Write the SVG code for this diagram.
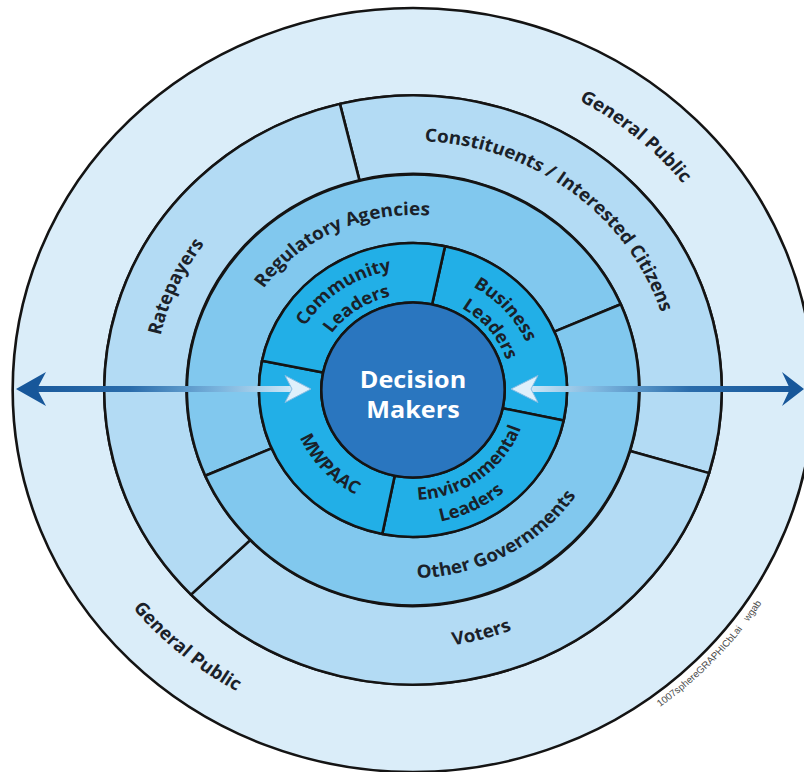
<svg xmlns="http://www.w3.org/2000/svg" width="804" height="772" viewBox="0 0 804 772">
<style>
.lbl{font-family:"Open Sans","Liberation Sans",sans-serif;font-weight:700;font-size:18px;fill:#1a2129;text-anchor:middle}
.sm{font-size:17.5px}
.seg{stroke:#141414;stroke-width:2.5;stroke-linejoin:round}
.outer{fill:#daedf9}
.r2{fill:#b3dbf4}
.r3{fill:#81c8ee}
.r4{fill:#22afe7}
</style>
<defs>
<linearGradient id="gArrL" gradientUnits="userSpaceOnUse" x1="17" y1="0" x2="300" y2="0">
<stop offset="0" stop-color="#17579a"/><stop offset="0.4" stop-color="#2a6cab"/><stop offset="0.72" stop-color="#7cb5de"/><stop offset="1" stop-color="#d8eefa"/>
</linearGradient>
<linearGradient id="gArrR" gradientUnits="userSpaceOnUse" x1="803" y1="0" x2="520" y2="0">
<stop offset="0" stop-color="#17579a"/><stop offset="0.4" stop-color="#2a6cab"/><stop offset="0.72" stop-color="#7cb5de"/><stop offset="1" stop-color="#d8eefa"/>
</linearGradient>
<path id="pGP1" d="M -112.86 -310.10 A 330 330 0 0 1 324.98 57.30"/>
<path id="pGP2" d="M -339.76 -59.91 A 345 345 0 0 0 117.99 324.20"/>
<path id="pCon" d="M -96.49 -229.55 A 249 249 0 0 1 247.03 31.20"/>
<path id="pRate" d="M -201.08 143.43 A 247 247 0 0 1 -23.66 -245.86"/>
<path id="pVot" d="M -182.43 182.43 A 258 258 0 0 0 249.20 66.77"/>
<path id="pReg" d="M -174.25 -16.17 A 175 175 0 0 1 101.13 -142.82"/>
<path id="pOth" d="M -98.23 160.29 A 188 188 0 0 0 187.94 4.92"/>
<path id="pCom1" d="M -120.71 8.44 A 121 121 0 0 1 53.05 -108.75"/>
<path id="pCom2" d="M -95.83 5.69 A 96 96 0 0 1 42.99 -85.84"/>
<path id="pBus1" d="M -25.33 -115.25 A 118 118 0 0 1 112.48 35.68"/>
<path id="pBus2" d="M -15.51 -92.71 A 94 94 0 0 1 88.05 32.92"/>
<path id="pEnv1" d="M -44.74 100.49 A 110 110 0 0 0 109.40 -11.50"/>
<path id="pEnv2" d="M -74.93 111.09 A 134 134 0 0 0 133.68 9.35"/>
<path id="pMW" d="M -112.84 -34.50 A 118 118 0 0 0 26.55 114.98"/>
<path id="pWm" d="M -88.88 384.88 A 395 395 0 0 0 377.74 -115.50"/>
</defs>
<rect width="804" height="772" fill="#ffffff"/>
<g transform="translate(413,390) scale(1.048,1)">
<g id="general-public">
<path class="seg outer" fill-rule="evenodd" d="M -382 0 A 382 382 0 1 1 382 0 A 382 382 0 1 1 -382 0 Z M -294.5 0 A 294.5 294.5 0 1 0 294.5 0 A 294.5 294.5 0 1 0 -294.5 0 Z"/>
<text class="lbl"><textPath href="#pGP1" startOffset="50%">General Public</textPath></text>
<text class="lbl"><textPath href="#pGP2" startOffset="50%">General Public</textPath></text>
</g>
<g id="constituents">
<path class="seg r2" d="M -69.74 -286.14 A 294.5 294.5 0 0 1 282.51 83.14 L 207.21 60.98 A 216 216 0 0 0 -51.15 -209.87 Z"/>
<text class="lbl"><textPath href="#pCon" startOffset="50%">Constituents / Interested Citizens</textPath></text>
</g>
<g id="voters">
<path class="seg r2" d="M 282.51 83.14 A 294.5 294.5 0 0 1 -211.84 204.59 L -155.37 150.06 A 216 216 0 0 0 207.21 60.98 Z"/>
<text class="lbl"><textPath href="#pVot" startOffset="50%">Voters</textPath></text>
</g>
<g id="ratepayers">
<path class="seg r2" d="M -211.84 204.59 A 294.5 294.5 0 0 1 -69.74 -286.14 L -51.15 -209.87 A 216 216 0 0 0 -155.37 150.06 Z"/>
<text class="lbl"><textPath href="#pRate" startOffset="50%">Ratepayers</textPath></text>
</g>
<g id="regulatory-agencies">
<path class="seg r3" d="M -198.24 85.77 A 216 216 0 0 1 198.24 -85.77 L 134.92 -58.37 A 147 147 0 0 0 -134.92 58.37 Z"/>
<text class="lbl"><textPath href="#pReg" startOffset="50%">Regulatory Agencies</textPath></text>
</g>
<g id="other-governments">
<path class="seg r3" d="M 198.24 -85.77 A 216 216 0 0 1 -198.24 85.77 L -134.92 58.37 A 147 147 0 0 0 134.92 -58.37 Z"/>
<text class="lbl"><textPath href="#pOth" startOffset="50%">Other Governments</textPath></text>
</g>
<g id="business-leaders">
<path class="seg r4" d="M 30.56 -143.78 A 147 147 0 0 1 143.78 30.56 L 85.58 18.19 A 87.5 87.5 0 0 0 18.19 -85.58 Z"/>
<text class="lbl sm"><textPath href="#pBus1" startOffset="50%">Business</textPath></text>
<text class="lbl sm"><textPath href="#pBus2" startOffset="50%">Leaders</textPath></text>
</g>
<g id="environmental-leaders">
<path class="seg r4" d="M 143.78 30.56 A 147 147 0 0 1 -29.31 144.05 L -17.45 85.74 A 87.5 87.5 0 0 0 85.58 18.19 Z"/>
<text class="lbl sm"><textPath href="#pEnv1" startOffset="50%">Environmental</textPath></text>
<text class="lbl sm"><textPath href="#pEnv2" startOffset="50%">Leaders</textPath></text>
</g>
<g id="mwpaac">
<path class="seg r4" d="M -29.31 144.05 A 147 147 0 0 1 -144.05 -29.31 L -85.74 -17.45 A 87.5 87.5 0 0 0 -17.45 85.74 Z"/>
<text class="lbl sm"><textPath href="#pMW" startOffset="50%">MWPAAC</textPath></text>
</g>
<g id="community-leaders">
<path class="seg r4" d="M -144.05 -29.31 A 147 147 0 0 1 30.56 -143.78 L 18.19 -85.58 A 87.5 87.5 0 0 0 -85.74 -17.45 Z"/>
<text class="lbl sm"><textPath href="#pCom1" startOffset="50%">Community</textPath></text>
<text class="lbl sm"><textPath href="#pCom2" startOffset="50%">Leaders</textPath></text>
</g>
<g id="decision-makers">
<circle class="seg" cx="0" cy="0" r="87.5" fill="#2a76bf"/>
<text class="lbl" style="fill:#ffffff;font-size:24px" x="0" y="-2">Decision</text>
<text class="lbl" style="fill:#ffffff;font-size:24px" x="0" y="28">Makers</text>
</g>
<text style="font-family:'Liberation Sans',sans-serif;font-size:9.5px;fill:#4a4a4a;text-anchor:middle"><textPath href="#pWm" startOffset="50%">1007sphereGRAPHICbLai<tspan dx="9">wgab</tspan></textPath></text>
</g>
<g id="connectors">
<rect x="36" y="386" width="258" height="6" fill="url(#gArrL)"/>
<path d="M 16 389 L 46 372 L 37 389 L 46 406 Z" fill="#17579a"/>
<path d="M 311 389 L 285 375.5 L 292 389 L 285 402.5 Z" fill="#dff0fb" stroke="#86bde3" stroke-width="1"/>
<rect x="530" y="386" width="260" height="6" fill="url(#gArrR)"/>
<path d="M 804 389 L 782 372 L 790 389 L 782 406 Z" fill="#17579a"/>
<path d="M 511 389 L 538 375.5 L 531 389 L 538 402.5 Z" fill="#dff0fb" stroke="#86bde3" stroke-width="1"/>
</g>
</svg>
